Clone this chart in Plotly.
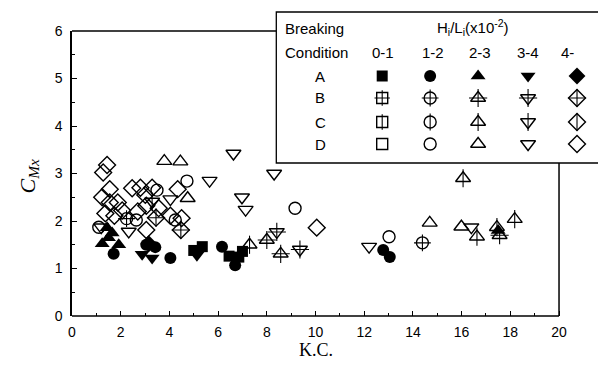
import plotly.graph_objects as go

# ---------------- data (K.C., C_Mx) ----------------
# A: filled symbols
kc_A_01 = [5.0, 5.35, 6.45, 6.85, 7.0]
cm_A_01 = [1.38, 1.46, 1.26, 1.24, 1.36]
kc_A_12 = [1.71, 3.05, 3.42, 4.04, 6.16, 6.7, 12.78, 13.05]
cm_A_12 = [1.31, 1.50, 1.45, 1.22, 1.46, 1.07, 1.39, 1.24]
kc_A_23 = [1.24, 1.44, 1.5, 1.65, 1.92, 17.5]
cm_A_23 = [1.52, 1.86, 1.65, 1.75, 1.50, 1.80]
kc_A_34 = [2.88, 3.29, 5.13]
cm_A_34 = [1.30, 1.22, 1.28]
kc_A_4 = [3.15]
cm_A_4 = [1.52]

# B: symbols with a cross
kc_B_12 = [2.24, 14.39]
cm_B_12 = [2.05, 1.54]
kc_B_23 = [8.0, 8.57, 17.56]
cm_B_23 = [1.60, 1.31, 1.70]
kc_B_34 = [8.41, 9.36]
cm_B_34 = [1.77, 1.40]
kc_B_4 = [3.45, 4.47]
cm_B_4 = [2.07, 1.81]

# C: symbols with a vertical bar
kc_C_23 = [7.29, 16.06, 16.63, 17.45, 18.18]
cm_C_23 = [1.50, 2.90, 1.67, 1.87, 2.04]
kc_C_34 = [3.29]
cm_C_34 = [2.41]

# D: open symbols
kc_D_12 = [1.10, 2.64, 3.49, 4.24, 4.72, 9.16, 13.02]
cm_D_12 = [1.87, 2.02, 2.65, 2.02, 2.84, 2.27, 1.67]
kc_D_23 = [3.79, 4.45, 4.75, 14.69, 15.99]
cm_D_23 = [3.26, 3.25, 2.48, 1.96, 1.88]
kc_D_34 = [1.20, 2.33, 4.04, 5.65, 6.63, 6.98, 7.13, 8.3, 12.2, 16.4]
cm_D_34 = [1.87, 1.78, 2.46, 2.85, 3.42, 2.50, 2.24, 3.0, 1.46, 1.87]
kc_D_4 = [1.44, 1.28, 1.55, 1.24, 1.55, 1.37, 1.88, 2.06, 1.74, 2.47, 2.81,
          3.01, 3.29, 3.05, 2.70, 3.56, 4.34, 4.04, 3.05, 4.50, 10.05]
cm_D_4 = [3.18, 3.02, 2.67, 2.50, 2.39, 2.16, 2.39, 2.22, 2.11, 2.69, 2.70,
          2.55, 2.70, 2.32, 2.20, 2.27, 2.67, 2.11, 1.81, 2.06, 1.86]

# legend table text
conditions = ["A", "B", "C", "D"]
ranges = ["0-1", "1-2", "2-3", "3-4", "4-"]
shapes_by_range = ["square", "circle", "triangle-up", "triangle-down", "diamond"]

# tick values
x_ticks = [0, 2, 4, 6, 8, 10, 12, 14, 16, 18, 20]
x_minor = [1, 3, 5, 7, 9, 11, 13, 15, 17, 19]

# ---------------- geometry ----------------
W, H = 598, 368
L, T, B = 71.5, 31, 52
FRAME_R = 559            # pixel of K.C. = 20 (right frame)
R = 12                   # extra room on the right for the legend table
XMAX, YMAX = 20, 6
pw_frame = FRAME_R - L
pw = W - L - R
ph = H - T - B
XR = XMAX * pw / pw_frame  # axis range so that 20 lands on the frame


def px2d(px, py):
    return (px - L) / pw_frame * XMAX, (H - B - py) / ph * YMAX


def px2p(px, py):
    return (px - L) / pw, (H - B - py) / ph


fig = go.Figure()

SIZE = {"square": 11, "circle": 12, "triangle-up": 13, "triangle-down": 13, "diamond": 13}
LW = 1.4


def add_group(x, y, shape, style, clip=True):
    s = SIZE[shape]
    if style == "A":
        fig.add_trace(go.Scatter(x=x, y=y, mode="markers", cliponaxis=clip, hoverinfo="skip",
                                 marker=dict(symbol=shape, size=s, color="black",
                                             line=dict(width=0))))
        return
    fig.add_trace(go.Scatter(x=x, y=y, mode="markers", cliponaxis=clip, hoverinfo="skip",
                             marker=dict(symbol=shape + "-open", size=s, color="black",
                                         line=dict(width=LW, color="black"))))
    if style == "B":
        fig.add_trace(go.Scatter(x=x, y=y, mode="markers", cliponaxis=clip, hoverinfo="skip",
                                 marker=dict(symbol="cross-thin", size=s, color="black",
                                             line=dict(width=1.1, color="black"))))
    elif style == "C":
        fig.add_trace(go.Scatter(x=x, y=y, mode="markers", cliponaxis=clip, hoverinfo="skip",
                                 marker=dict(symbol="line-ns", size=s, color="black",
                                             line=dict(width=1.1, color="black"))))


groups = [
    (kc_D_4, cm_D_4, "diamond", "D"), (kc_D_12, cm_D_12, "circle", "D"),
    (kc_D_23, cm_D_23, "triangle-up", "D"), (kc_D_34, cm_D_34, "triangle-down", "D"),
    (kc_C_23, cm_C_23, "triangle-up", "C"), (kc_C_34, cm_C_34, "triangle-down", "C"),
    (kc_B_12, cm_B_12, "circle", "B"), (kc_B_23, cm_B_23, "triangle-up", "B"),
    (kc_B_34, cm_B_34, "triangle-down", "B"), (kc_B_4, cm_B_4, "diamond", "B"),
    (kc_A_01, cm_A_01, "square", "A"), (kc_A_12, cm_A_12, "circle", "A"),
    (kc_A_23, cm_A_23, "triangle-up", "A"), (kc_A_34, cm_A_34, "triangle-down", "A"),
    (kc_A_4, cm_A_4, "diamond", "A"),
]
for gx, gy, shp, st in groups:
    add_group(gx, gy, shp, st)

# ---------------- legend table ----------------
box_l, box_t, box_r, box_b = 276, 12, 601, 163
col_px = [382, 430, 478, 528, 577]
head_px = [383, 433, 480, 528, 567]
row_py = [76, 98, 122, 144]

for j, cond in enumerate(conditions):
    for i, shp in enumerate(shapes_by_range):
        xd, yd = px2d(col_px[i], row_py[j])
        add_group([xd], [yd], shp, cond, clip=False)

shapes = []
FRAME = dict(color="black", width=1.5)
xf, _ = px2p(FRAME_R, 0)
xb, _ = px2p(box_l, 0)
_, yb = px2p(0, box_b)
# bottom axis line up to K.C. = 20
shapes.append(dict(type="line", xref="paper", yref="paper", x0=0, x1=xf, y0=0, y1=0, line=FRAME))
# top frame (stops at the legend box) and right frame (stops under the box)
shapes.append(dict(type="line", xref="paper", yref="paper", x0=0, x1=xb, y0=1, y1=1, line=FRAME))
shapes.append(dict(type="line", xref="paper", yref="paper", x0=xf, x1=xf, y0=0, y1=yb, line=FRAME))
bx0, by0 = px2p(box_l, box_b)
bx1, by1 = px2p(box_r, box_t)
shapes.append(dict(type="rect", xref="paper", yref="paper", x0=bx0, x1=bx1, y0=by0, y1=by1,
                   line=dict(color="black", width=1.3), fillcolor="rgba(0,0,0,0)"))

ann = []
TF = dict(family="Liberation Sans, Arial", size=15, color="black")


def text(px, py, s, xanchor="center", font=TF, angle=0):
    xp, yp = px2p(px, py)
    ann.append(dict(xref="paper", yref="paper", x=xp, y=yp, text=s, showarrow=False,
                    xanchor=xanchor, yanchor="middle", font=font, textangle=angle))


text(283, 29, "Breaking", "left")
text(283, 52, "Condition", "left")
text(473, 28, "H<sub>i</sub>/L<sub>i</sub>(x10<sup>-2</sup>)")
for i, r in enumerate(ranges):
    text(head_px[i], 52, r)
for j, c in enumerate(conditions):
    text(320, row_py[j], c)

SERIF = "Liberation Serif, Times New Roman"
# axis titles
text((L + FRAME_R) / 2, 350, "K.C.", font=dict(family=SERIF, size=18, color="black"))
text(28, 176, "<i>C<sub>Mx</sub></i>", font=dict(family=SERIF, size=22, color="black"), angle=-90)

TICKFONT = dict(family="Liberation Sans, Arial", size=14, color="black")

fig.update_layout(
    width=W, height=H, margin=dict(l=L, r=R, t=T, b=B),
    paper_bgcolor="white", plot_bgcolor="white", showlegend=False,
    xaxis=dict(range=[0, XR], tickmode="array", tickvals=x_ticks, showline=False,
               ticks="inside", ticklen=5, tickwidth=1.2, tickcolor="black", ticklabelstandoff=6,
               minor=dict(tickmode="array", tickvals=x_minor, ticks="inside", ticklen=3,
                          tickcolor="black", tickwidth=1.2),
               showgrid=False, zeroline=False, tickfont=TICKFONT),
    yaxis=dict(range=[0, YMAX], dtick=1, tick0=0, showline=True, linecolor="black", linewidth=1.5,
               ticks="inside", ticklen=5, tickwidth=1.2, tickcolor="black", ticklabelstandoff=5,
               minor=dict(dtick=0.5, ticks="inside", ticklen=3, tickcolor="black", tickwidth=1.2),
               showgrid=False, zeroline=False, tickfont=TICKFONT),
    shapes=shapes, annotations=ann,
)

fig.write_html("out.html")
